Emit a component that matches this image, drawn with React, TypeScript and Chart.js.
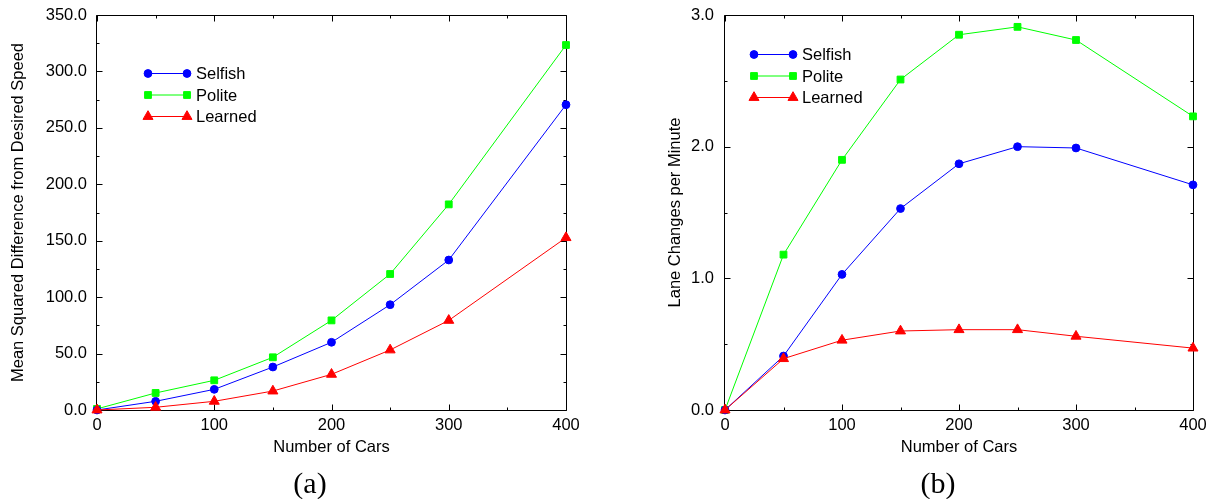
import React, { useEffect, useRef } from 'react';
import { Chart, registerables } from 'chart.js';

Chart.register(...registerables);

// ---------- data ----------
const cars = [0, 50, 100, 150, 200, 250, 300, 400];
const seriesNames = ['Selfish', 'Polite', 'Learned'];

// (a) Mean squared difference from desired speed
const msdSelfish = [0, 7.7, 18.3, 38.1, 60.0, 93.3, 132.9, 270.5];
const msdPolite = [1.0, 15.1, 26.3, 46.7, 79.4, 120.5, 182.2, 323.4];
const msdLearned = [0, 2.4, 7.7, 16.8, 31.6, 53.2, 79.4, 152.7];

// (b) Lane changes per minute
const lcSelfish = [0, 0.41, 1.03, 1.53, 1.87, 2.0, 1.99, 1.71];
const lcPolite = [0, 1.18, 1.9, 2.51, 2.85, 2.91, 2.81, 2.23];
const lcLearned = [0, 0.39, 0.53, 0.6, 0.61, 0.61, 0.56, 0.47];

const captions = ['(a)', '(b)'];
const xTitle = 'Number of Cars';
const yTitles = ['Mean Squared Difference from Desired Speed', 'Lane Changes per Minute'];

// ---------- styles ----------
const colors = ['#0000ff', '#00ff00', '#ff0000'];
const pointStyles = ['circle', 'rect', 'triangle'];
const pointRadii = [3.9, 4.8, 5.8];
const drawOrder = [2, 3, 1];
const FONT = 'Liberation Sans, Arial, Helvetica, sans-serif';
const FS = 16.5;

function drawMarker(ctx: CanvasRenderingContext2D, style: string, x: number, y: number, r: number) {
  ctx.beginPath();
  if (style === 'circle') {
    ctx.arc(x, y, r, 0, Math.PI * 2);
  } else if (style === 'rect') {
    const s = Math.SQRT1_2 * r;
    ctx.rect(x - s, y - s, 2 * s, 2 * s);
  } else {
    ctx.moveTo(x, y - r);
    ctx.lineTo(x + 0.866 * r, y + 0.5 * r);
    ctx.lineTo(x - 0.866 * r, y + 0.5 * r);
    ctx.closePath();
  }
  ctx.fill();
  ctx.stroke();
}

const frameTicksPlugin = {
  id: 'frameTicks',
  beforeDatasetsDraw(chart: any) {
    const { ctx, chartArea: a, scales } = chart;
    const xs = scales.x;
    const ys = scales.y;
    const c = (v: number) => Math.round(v) + 0.5;
    const L = c(a.left) - 1, R = c(a.right), T = c(a.top), B = c(a.bottom);
    ctx.save();
    ctx.strokeStyle = '#000';
    ctx.lineWidth = 1;
    ctx.beginPath();
    ctx.rect(L, T, R - L, B - T);
    ctx.stroke();
    ctx.beginPath();
    xs.ticks.forEach((t: any) => {
      const px = c(xs.getPixelForValue(t.value));
      const len = t.label !== '' ? 6 : 3;
      ctx.moveTo(px, B);
      ctx.lineTo(px, B - len);
      ctx.moveTo(px, T);
      ctx.lineTo(px, T + len);
    });
    ys.ticks.forEach((t: any) => {
      const py = c(ys.getPixelForValue(t.value));
      const len = t.label !== '' ? 6 : 3;
      ctx.moveTo(L, py);
      ctx.lineTo(L + len, py);
      ctx.moveTo(R, py);
      ctx.lineTo(R - len, py);
    });
    ctx.stroke();
    ctx.restore();
  },
};

const insideLegendPlugin = {
  id: 'insideLegend',
  afterDatasetsDraw(chart: any, _args: any, opts: any) {
    const { ctx, chartArea: a } = chart;
    ctx.save();
    ctx.font = `${FS}px ${FONT}`;
    ctx.textBaseline = 'middle';
    ctx.textAlign = 'left';
    chart.data.datasets.forEach((ds: any, i: number) => {
      const y = a.top + opts.dy + i * opts.gap;
      const x1 = a.left + opts.dx;
      const x2 = x1 + 39;
      ctx.strokeStyle = ds.borderColor;
      ctx.fillStyle = ds.borderColor;
      ctx.lineWidth = 1;
      ctx.beginPath();
      ctx.moveTo(x1, y);
      ctx.lineTo(x2, y);
      ctx.stroke();
      drawMarker(ctx, ds.pointStyle, x1, y, ds.pointRadius);
      drawMarker(ctx, ds.pointStyle, x2, y, ds.pointRadius);
      ctx.fillStyle = '#000';
      ctx.fillText(ds.label, x1 + 48, y + 1);
    });
    ctx.restore();
  },
};

function makeDatasets(series: number[][]) {
  return series.map((vals, i) => ({
    label: seriesNames[i],
    data: cars.map((c, j) => ({ x: c, y: vals[j] })),
    borderColor: colors[i],
    backgroundColor: colors[i],
    pointBackgroundColor: colors[i],
    pointBorderColor: colors[i],
    pointStyle: pointStyles[i],
    pointRadius: pointRadii[i],
    pointBorderWidth: 1,
    borderWidth: 1,
    fill: false,
    tension: 0,
    clip: false,
    order: drawOrder[i],
  }));
}

type PanelCfg = {
  series: number[][];
  yMax: number;
  yStep: number;
  yMajor: number;
  yTitle: string;
  axisWidth: number;
  yTitlePad: number;
  yTickPad: number;
  padRight: number;
  legendDx: number;
  legendDy: number;
};

function buildConfig(p: PanelCfg): any {
  return {
    type: 'line',
    data: { datasets: makeDatasets(p.series) },
    plugins: [frameTicksPlugin, insideLegendPlugin],
    options: {
      animation: false,
      responsive: false,
      maintainAspectRatio: false,
      layout: { padding: { top: 15, right: p.padRight, bottom: 0, left: 0 } },
      plugins: {
        legend: { display: false },
        tooltip: { enabled: false },
        insideLegend: { dx: p.legendDx, dy: p.legendDy, gap: 21.5 },
      },
      scales: {
        x: {
          type: 'linear',
          min: 0,
          max: 400,
          grid: { display: false, drawTicks: false },
          border: { display: false },
          ticks: {
            stepSize: 50,
            autoSkip: false,
            maxRotation: 0,
            padding: 6,
            color: '#000',
            font: { family: FONT, size: FS },
            callback: (v: number) => (v % 100 === 0 ? String(v) : ''),
          },
          title: {
            display: true,
            text: xTitle,
            color: '#000',
            font: { family: FONT, size: FS },
            padding: { top: 0, bottom: 42 },
          },
          afterFit: (s: any) => {
            s.height = 89;
            s.paddingLeft = 0;
            s.paddingRight = 0;
          },
        },
        y: {
          type: 'linear',
          min: 0,
          max: p.yMax,
          grid: { display: false, drawTicks: false },
          border: { display: false },
          ticks: {
            stepSize: p.yStep,
            autoSkip: false,
            padding: p.yTickPad,
            color: '#000',
            font: { family: FONT, size: FS },
            callback: (v: number) => {
              const r = Math.round(v / p.yMajor * 1000) / 1000;
              return Number.isInteger(r) ? v.toFixed(1) : '';
            },
          },
          title: {
            display: true,
            text: p.yTitle,
            color: '#000',
            font: { family: FONT, size: FS },
            padding: { top: p.yTitlePad, bottom: 0 },
          },
          afterFit: (s: any) => {
            s.width = p.axisWidth;
            s.paddingTop = 0;
            s.paddingBottom = 0;
          },
        },
      },
    },
  };
}

const panels = [
  {
    left: 0,
    width: 620,
    capX: 310,
    cfg: {
      series: [msdSelfish, msdPolite, msdLearned],
      yMax: 350,
      yStep: 25,
      yMajor: 50,
      yTitle: yTitles[0],
      axisWidth: 97,
      yTitlePad: 9,
      yTickPad: 10,
      padRight: 54,
      legendDx: 51,
      legendDy: 58.5,
    },
  },
  {
    left: 620,
    width: 589,
    capX: 938,
    cfg: {
      series: [lcSelfish, lcPolite, lcLearned],
      yMax: 3,
      yStep: 0.5,
      yMajor: 1,
      yTitle: yTitles[1],
      axisWidth: 105,
      yTitlePad: 46,
      yTickPad: 11,
      padRight: 16,
      legendDx: 29,
      legendDy: 39.5,
    },
  },
];

function Panel({ left, width, cfg }: { left: number; width: number; cfg: PanelCfg }) {
  const ref = useRef<HTMLCanvasElement | null>(null);
  useEffect(() => {
    if (!ref.current) return;
    const chart = new Chart(ref.current, buildConfig(cfg));
    return () => chart.destroy();
  }, []);
  return (
    <canvas
      ref={ref}
      width={width}
      height={499}
      style={{ position: 'absolute', left, top: 0, width, height: 499 }}
    />
  );
}

export default function App() {
  return (
    <div
      style={{
        position: 'absolute',
        left: 0,
        top: 0,
        width: 1209,
        height: 499,
        overflow: 'hidden',
        background: '#fff',
      }}
    >
      {panels.map((p, i) => (
        <Panel key={i} left={p.left} width={p.width} cfg={p.cfg} />
      ))}
      {panels.map((p, i) => (
        <div
          key={'c' + i}
          style={{
            position: 'absolute',
            left: p.capX - 50,
            width: 100,
            top: 468,
            textAlign: 'center',
            fontFamily: 'Liberation Serif, Times New Roman, serif',
            fontSize: 30,
            lineHeight: '30px',
            color: '#000',
          }}
        >
          {captions[i]}
        </div>
      ))}
    </div>
  );
}
